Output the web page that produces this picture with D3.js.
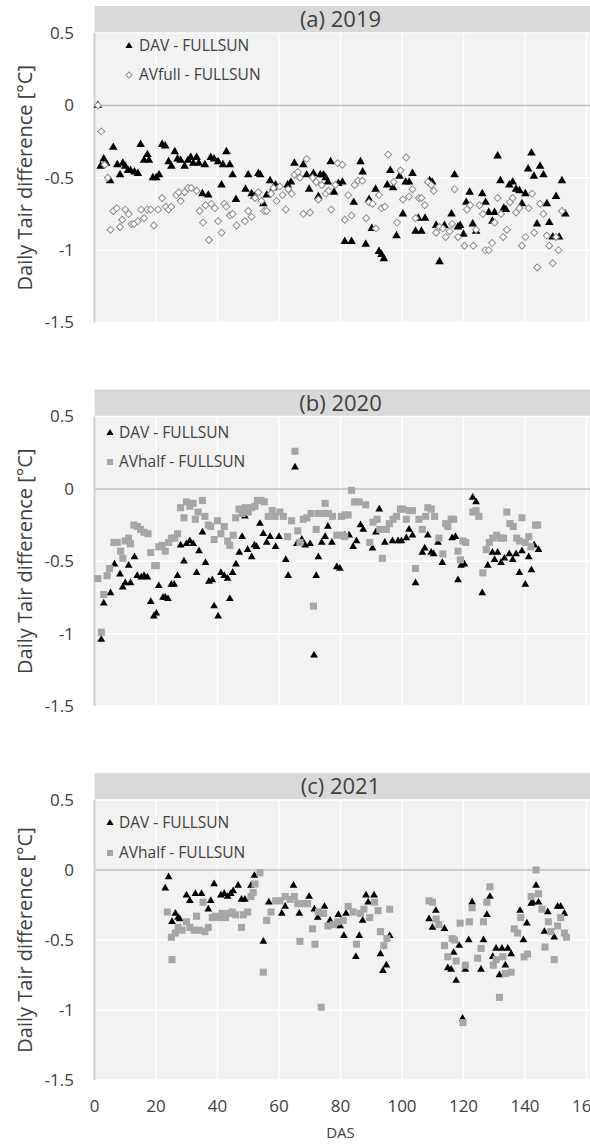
<!DOCTYPE html>
<html><head><meta charset="utf-8">
<script src="https://cdn.jsdelivr.net/npm/d3@7"></script>
<style>body{margin:0;background:#fff}svg{display:block}text{font-family:"Open Sans",sans-serif}</style>
</head><body><svg id="c" width="590" height="1146"></svg>
<script>
const xTicks=[0,20,40,60,80,100,120,140,160];
const yTicks=[0.5,0,-0.5,-1,-1.5];
const panelTitles=["(a) 2019","(b) 2020","(c) 2021"];
const seriesNames2019=["DAV - FULLSUN","AVfull - FULLSUN"];
const seriesNames2020=["DAV - FULLSUN","AVhalf - FULLSUN"];
const seriesNames2021=["DAV - FULLSUN","AVhalf - FULLSUN"];
const yTitle="Daily Tair difference [°C]";
const xTitle="DAS";

const dav2019=[[1.1,0],[2,-0.42],[3,-0.37],[3.8,-0.40],[5.1,-0.52],[6.1,-0.29],[7.4,-0.41],[8.3,-0.48],[9.2,-0.40],[10,-0.42],[10.9,-0.45],[11.7,-0.45],[13,-0.46],[14.1,-0.47],[15,-0.27],[16.1,-0.38],[17.2,-0.34],[17.7,-0.38],[19,-0.50],[20.1,-0.50],[21,-0.48],[22,-0.27],[23,-0.28],[24.1,-0.39],[25,-0.42],[26.1,-0.32],[27,-0.37],[28,-0.38],[29.3,-0.42],[30.4,-0.38],[31.3,-0.36],[32.1,-0.40],[33.2,-0.36],[33.9,-0.40],[35.1,-0.61],[35.9,-0.41],[37,-0.62],[37.8,-0.36],[38.9,-0.37],[40.2,-0.39],[41.3,-0.55],[41.8,-0.41],[42.9,-0.32],[44,-0.41],[44.9,-0.48],[46,-0.65],[49.1,-0.58],[50,-0.48],[51.1,-0.61],[52,-0.63],[53.3,-0.47],[53.9,-0.48],[54.9,-0.68],[56,-0.62],[57.1,-0.52],[58.2,-0.57],[58.9,-0.55],[62.8,-0.55],[63.9,-0.53],[65,-0.40],[67.9,-0.41],[69,-0.48],[69.8,-0.58],[71.2,-0.47],[72.8,-0.63],[73.4,-0.48],[74.5,-0.48],[75.2,-0.50],[75.9,-0.53],[76.8,-0.39],[77.9,-0.60],[79.3,-0.54],
[80.6,-0.53],[81.4,-0.94],[83.6,-0.94],[84.3,-0.67],[86.5,-0.39],[87.2,-0.46],[88.2,-0.96],[89.3,-0.65],[90.2,-0.85],[91.4,-0.58],[92.5,-1.01],[93.3,-1.03],[94.1,-1.06],[95.2,-0.55],[96.2,-0.45],[97.1,-0.57],[98.2,-0.90],[99.2,-0.49],[100.3,-0.75],[101.2,-0.53],[102.3,-0.53],[103.4,-0.47],[104.4,-0.87],[105.3,-0.78],[106.3,-0.87],[107.5,-0.78],[109,-0.52],[109.8,-0.53],[111.1,-0.83],[112.2,-1.08],[113.8,-0.83],[116.1,-0.75],[117.1,-0.48],[118.2,-0.84],[118.9,-0.83],[120,-0.89],[120.9,-0.67],[122,-0.60],[123,-0.82],[124.1,-0.87],[126.1,-0.61],[127.2,-0.67],[128.2,-0.74],[129.4,-0.80],[130.1,-0.74],[131.1,-0.35],[132,-0.52],[133.1,-0.71],[133.8,-0.72],[134.9,-0.55],[136,-0.53],[137.1,-0.58],[138.2,-0.59],[139,-0.68],[140.1,-0.61],[141,-0.44],[142.1,-0.33],[142.9,-0.49],[143.9,-0.82],[144.9,-0.42],[146,-0.48],[147.1,-0.68],[147.9,-0.81],[149,-0.91],[150.1,-0.63],[151.1,-0.91],[152,-0.52],[153.1,-0.75]];

const avfull2019=[[1.1,0],[2.2,-0.18],[3.3,-0.41],[4.3,-0.50],[5.2,-0.86],[6.1,-0.73],[7.2,-0.71],[8.3,-0.84],[9,-0.79],[10,-0.72],[11.1,-0.75],[12,-0.82],[12.8,-0.82],[14.1,-0.80],[15.2,-0.72],[16.1,-0.78],[17.2,-0.72],[18.3,-0.72],[19.3,-0.83],[20.7,-0.72],[22,-0.64],[23.2,-0.70],[24.1,-0.72],[25,-0.70],[26.6,-0.62],[27.4,-0.60],[28,-0.66],[29.3,-0.60],[30.4,-0.57],[31.5,-0.57],[33.2,-0.59],[34.2,-0.73],[35.3,-0.81],[36.1,-0.69],[37.2,-0.93],[38,-0.68],[39.1,-0.71],[40.2,-0.80],[41.3,-0.88],[42.2,-0.68],[42.9,-0.70],[44,-0.76],[44.9,-0.75],[46.2,-0.83],[48.9,-0.80],[50,-0.73],[51.1,-0.77],[52.2,-0.64],[53.3,-0.60],[54.3,-0.66],[55.2,-0.73],[56,-0.73],[57.4,-0.61],[58.2,-0.57],[59.2,-0.66],[60.3,-0.56],[61.2,-0.62],[62.2,-0.72],[63,-0.58],[64.1,-0.61],[65,-0.48],[66.1,-0.46],[66.8,-0.50],[67.9,-0.75],[69,-0.37],[70.1,-0.74],[70.9,-0.50],[72.1,-0.53],[72.8,-0.65],[73.9,-0.55],[75.2,-0.61],[76.1,-0.59],[77,-0.72],[78.3,-0.55],[79.1,-0.40],
[80.6,-0.41],[81.4,-0.79],[82.5,-0.62],[83.6,-0.76],[84.6,-0.55],[85.7,-0.52],[87.1,-0.52],[88.4,-0.78],[89.3,-0.67],[90.4,-0.68],[91.5,-0.85],[92.5,-0.62],[93.3,-0.71],[94.4,-0.70],[95.5,-0.34],[97.3,-0.53],[98.4,-0.81],[99.5,-0.45],[100.3,-0.65],[101.4,-0.36],[102.3,-0.63],[103.4,-0.58],[104.4,-0.78],[105.5,-0.64],[106.3,-0.64],[107.4,-0.69],[108.4,-0.53],[109.5,-0.55],[110.3,-0.59],[111.1,-0.88],[112.2,-0.84],[113.3,-0.85],[114.2,-0.91],[115.5,-0.87],[116.3,-0.82],[117.1,-0.58],[118.2,-0.91],[120.3,-0.97],[121.1,-0.72],[122.2,-0.69],[123.2,-0.97],[124.1,-0.86],[125.2,-0.69],[126.3,-0.75],[127.1,-1.00],[128.2,-1.00],[129.3,-0.95],[130.1,-0.81],[131.1,-0.64],[132.2,-0.75],[132.9,-0.91],[134.1,-0.86],[135.1,-0.67],[136,-0.64],[137.1,-0.74],[138.2,-0.71],[139,-0.97],[140.1,-0.91],[141.2,-0.71],[142.3,-0.61],[143,-0.88],[144,-1.12],[144.9,-0.68],[146,-0.75],[147.1,-0.90],[147.9,-0.97],[149,-1.09],[150.1,-0.91],[150.9,-1.00],[152,-0.73]];

const dav2020=[[2.2,-1.04],[3,-0.79],[5.2,-0.72],[6.5,-0.52],[8.3,-0.59],[9.2,-0.68],[10,-0.65],[11.1,-0.53],[11.7,-0.65],[13,-0.47],[13.9,-0.60],[15.2,-0.61],[16.1,-0.60],[17.2,-0.61],[18.3,-0.78],[19.3,-0.88],[20.1,-0.86],[20.9,-0.67],[22.3,-0.75],[23,-0.75],[23.9,-0.76],[25,-0.66],[25.9,-0.66],[27,-0.60],[28,-0.39],[29.1,-0.50],[29.9,-0.38],[31,-0.36],[32.1,-0.38],[33.2,-0.58],[34,-0.43],[35.1,-0.30],[36.1,-0.51],[37.2,-0.64],[38.3,-0.63],[38.9,-0.81],[40.2,-0.88],[41.1,-0.58],[42.2,-0.60],[43.3,-0.62],[44,-0.76],[44.9,-0.58],[46,-0.52],[47.1,-0.44],[48,-0.33],[48.9,-0.19],[49.8,-0.42],[51.1,-0.47],[52,-0.39],[52.7,-0.40],[53.8,-0.24],[54.9,-0.31],[56,-0.37],[57.1,-0.33],[58.9,-0.40],[60,-0.33],[62.2,-0.49],[63,-0.60],[65.2,0.15],[65.8,-0.38],[67.4,-0.35],[68.5,-0.39],[70.1,-0.38],[71.4,-1.15],[72.1,-0.60],[72.8,-0.47],[73.9,-0.37],[75,-0.33],[75.9,-0.26],[77.2,-0.37],[78.8,-0.54],
[79.8,-0.55],[81.4,-0.32],[82.8,-0.32],[84.1,-0.40],[85.2,-0.36],[86.5,-0.25],[87.4,-0.28],[90.4,-0.41],[91.5,-0.30],[92.6,-0.14],[94.4,-0.37],[96.9,-0.36],[98.7,-0.36],[99.8,-0.36],[101.4,-0.34],[102.3,-0.28],[103.4,-0.32],[104.4,-0.65],[106.6,-0.44],[107.4,-0.41],[108.4,-0.32],[109.5,-0.44],[110.3,-0.45],[111.7,-0.37],[113.1,-0.51],[116.3,-0.34],[117.4,-0.33],[118.2,-0.63],[119.2,-0.53],[120.3,-0.52],[123,-0.06],[124.1,-0.09],[126.1,-0.72],[127.9,-0.53],[129.4,-0.44],[130.1,-0.49],[131.1,-0.44],[132.2,-0.51],[133.3,-0.48],[134.9,-0.45],[136,-0.49],[137.1,-0.45],[138.2,-0.58],[139,-0.43],[140.1,-0.66],[141.2,-0.47],[142.1,-0.56],[143,-0.39],[144.4,-0.42]];

const avhalf2020=[[1.1,-0.62],[2.2,-0.99],[3,-0.73],[4.1,-0.60],[4.9,-0.55],[6.3,-0.37],[7.4,-0.37],[8.5,-0.43],[9.2,-0.48],[10,-0.36],[11.1,-0.34],[11.7,-0.38],[12.8,-0.25],[13.9,-0.26],[15,-0.28],[16.1,-0.30],[17.4,-0.31],[18.3,-0.44],[19.6,-0.53],[20.1,-0.53],[20.9,-0.40],[22,-0.39],[23,-0.43],[24.1,-0.37],[25,-0.34],[26.1,-0.34],[27,-0.31],[28,-0.13],[29.1,-0.20],[29.9,-0.09],[31,-0.12],[32.1,-0.10],[32.8,-0.21],[33.7,-0.16],[35.1,-0.08],[35.9,-0.19],[37,-0.25],[37.8,-0.26],[38.9,-0.35],[40,-0.22],[41.1,-0.31],[42.2,-0.26],[43.3,-0.36],[44,-0.39],[45.1,-0.32],[45.9,-0.20],[47,-0.14],[48,-0.17],[48.9,-0.13],[50,-0.16],[51.1,-0.13],[52.2,-0.12],[53,-0.08],[54.1,-0.08],[55.2,-0.09],[56.5,-0.19],[57.8,-0.15],[58.7,-0.19],[60.3,-0.16],[61.4,-0.19],[62.8,-0.33],[64.1,-0.22],[65.2,0.26],[66.1,-0.29],[66.8,-0.37],[67.9,-0.21],[69,-0.20],[70.4,-0.17],[71.2,-0.81],[72.1,-0.28],[72.8,-0.17],[73.9,-0.17],[75,-0.10],[76.1,-0.17],[77.4,-0.19],[78.8,-0.32],
[80.3,-0.19],[80.6,-0.32],[81.4,-0.18],[81.4,-0.33],[82.5,-0.18],[83.6,-0.01],[84.6,-0.09],[86.1,-0.09],[88.2,-0.11],[89.5,-0.37],[90.6,-0.23],[91.9,-0.21],[92.8,-0.28],[93.6,-0.48],[94.9,-0.28],[95.9,-0.24],[97.1,-0.21],[98.2,-0.19],[99.5,-0.14],[100.3,-0.14],[101.4,-0.21],[102.3,-0.15],[103.4,-0.15],[104.4,-0.55],[105.5,-0.21],[106.6,-0.28],[107.7,-0.19],[108.4,-0.13],[109.5,-0.14],[110.6,-0.19],[112,-0.34],[113.3,-0.45],[114.2,-0.24],[114.9,-0.26],[116,-0.21],[116.8,-0.21],[118.2,-0.43],[119,-0.49],[119.8,-0.36],[120.7,-0.37],[123,-0.16],[124.1,-0.15],[125,-0.19],[126.3,-0.58],[127.4,-0.42],[128.4,-0.37],[129.5,-0.34],[130.8,-0.32],[131.9,-0.34],[133,-0.34],[134.1,-0.16],[135.1,-0.24],[136.2,-0.26],[137.3,-0.34],[138.2,-0.36],[139,-0.20],[140.1,-0.37],[141.2,-0.33],[141.9,-0.40],[143.4,-0.25],[144.1,-0.25]];

const dav2021=[[23,-0.13],[24.1,-0.05],[25.2,-0.37],[26.3,-0.31],[27.2,-0.34],[27.7,-0.35],[29.9,-0.18],[31,-0.22],[32.8,-0.17],[34.8,-0.17],[37,-0.28],[37.8,-0.22],[38.9,-0.10],[41.1,-0.18],[42.2,-0.17],[43.3,-0.19],[44.3,-0.17],[45.1,-0.15],[46.7,-0.11],[47.8,-0.21],[48.9,-0.21],[50.9,-0.11],[52,-0.04],[54.9,-0.51],[56.7,-0.23],[60.9,-0.31],[62,-0.26],[64.7,-0.11],[66.6,-0.31],[69.8,-0.19],[71.5,-0.28],[72.6,-0.34],[74.8,-0.26],[76.6,-0.36],[79.3,-0.32],[79.9,-0.40],
[81.1,-0.47],[81.8,-0.31],[85,-0.62],[86.1,-0.47],[87.2,-0.36],[88.3,-0.18],[89,-0.23],[90.9,-0.18],[93,-0.60],[93.8,-0.72],[94.9,-0.68],[96,-0.47],[108.8,-0.35],[109.9,-0.41],[111,-0.29],[113.8,-0.42],[114.9,-0.70],[116,-0.71],[116.8,-0.59],[117.6,-0.79],[118.6,-0.54],[119.7,-1.06],[120.6,-0.71],[121.7,-0.50],[122.8,-0.23],[125.7,-0.71],[126.5,-0.50],[127.6,-0.32],[128.6,-0.19],[129.5,-0.62],[130.6,-0.56],[131.7,-0.75],[132.5,-0.56],[133.6,-0.68],[134.4,-0.56],[135.5,-0.60],[138.4,-0.29],[139.5,-0.50],[140.6,-0.38],[142,-0.24],[142.5,-0.23],[143.6,-0.11],[144.4,-0.23],[146.3,-0.44],[147.4,-0.30],[149.5,-0.48],[150.6,-0.26],[151.6,-0.26],[152.8,-0.31]];

const avhalf2021=[[23.7,-0.30],[25,-0.48],[25.2,-0.64],[26.3,-0.45],[27.2,-0.41],[28.5,-0.43],[29.9,-0.37],[31,-0.41],[32.4,-0.43],[33.2,-0.33],[34.2,-0.43],[35.3,-0.23],[35.9,-0.44],[37,-0.41],[38.3,-0.34],[39.3,-0.33],[40.4,-0.34],[41.5,-0.31],[42.6,-0.34],[43.7,-0.31],[44.8,-0.30],[45.9,-0.32],[47.8,-0.41],[48.4,-0.32],[49.8,-0.30],[50.9,-0.19],[51.6,-0.16],[52.2,-0.10],[53.8,-0.02],[54.9,-0.73],[56,-0.36],[57.4,-0.30],[58.9,-0.22],[60.3,-0.22],[62,-0.19],[63.6,-0.21],[65,-0.19],[66.1,-0.24],[66.8,-0.51],[67.9,-0.24],[69.3,-0.24],[70.9,-0.42],[71.7,-0.53],[72.8,-0.30],[73.7,-0.98],[74.5,-0.31],[75.9,-0.40],[77.7,-0.39],[79.1,-0.37],
[80.9,-0.36],[82.5,-0.26],[84.1,-0.30],[85.2,-0.53],[86.5,-0.31],[87.6,-0.28],[89.5,-0.34],[91.1,-0.23],[92.2,-0.29],[93,-0.44],[94.1,-0.54],[95.1,-0.49],[96,-0.28],[108.8,-0.22],[109.9,-0.23],[111.1,-0.35],[112,-0.39],[113.8,-0.54],[114.9,-0.62],[116.3,-0.49],[117.1,-0.50],[117.6,-0.65],[118.9,-0.38],[119.8,-1.09],[120.6,-0.68],[121.9,-0.37],[122.8,-0.27],[124.6,-0.63],[125.7,-0.56],[126.5,-0.37],[127.6,-0.23],[128.6,-0.12],[129.7,-0.68],[130.6,-0.64],[131.7,-0.91],[132.8,-0.62],[133.6,-0.74],[135.5,-0.73],[136.5,-0.42],[137.6,-0.45],[138.6,-0.34],[139.7,-0.62],[140.8,-0.60],[142,-0.19],[143.6,0.00],[144.4,-0.17],[145.5,-0.28],[146.5,-0.55],[147.6,-0.37],[148.4,-0.44],[149.5,-0.64],[150.6,-0.40],[151.6,-0.34],[152.8,-0.45],[153.5,-0.48]];

const panels=[
 {title:panelTitles[0],names:seriesNames2019,s1:dav2019,s2:avfull2019,kind2:"diamond",top:33,bottom:322.5,leg:{mx:129,tx:139,y1:46,y2:75},tri:32},
 {title:panelTitles[1],names:seriesNames2020,s1:dav2020,s2:avhalf2020,kind2:"square",top:416.5,bottom:706,leg:{mx:110,tx:119,y1:433,y2:462},tri:26},
 {title:panelTitles[2],names:seriesNames2021,s1:dav2021,s2:avhalf2021,kind2:"square",top:800,bottom:1080,leg:{mx:110,tx:119,y1:823,y2:853},tri:26,xaxis:true}
];

const svg=d3.select("#c");
const W=590;
const x=d3.scaleLinear().domain([0,160]).range([94.5,586.5]);
const textCol="#404040";

panels.forEach(p=>{
  const y=d3.scaleLinear().domain([-1.5,0.5]).range([p.bottom,p.top]);
  const g=svg.append("g");
  g.append("rect").attr("x",x(0)).attr("y",p.top).attr("width",W-x(0)).attr("height",p.bottom-p.top).attr("fill","#f2f2f2");
  g.append("rect").attr("x",x(0)).attr("y",p.top-27).attr("width",W-x(0)).attr("height",27).attr("fill","#d9d9d9");
  g.append("text").attr("x",x(80)).attr("y",p.top-13.5).attr("dy","0.35em").attr("text-anchor","middle")
    .attr("font-size",22).attr("fill",textCol).text(p.title);
  g.selectAll(".vg").data(xTicks.filter(t=>t>0)).enter().append("line")
    .attr("x1",d=>x(d)).attr("x2",d=>x(d)).attr("y1",p.top).attr("y2",p.bottom).attr("stroke","#fff").attr("stroke-width",1.5);
  g.selectAll(".hg").data(yTicks.filter(t=>t!==0)).enter().append("line")
    .attr("x1",x(0)).attr("x2",W).attr("y1",d=>y(d)).attr("y2",d=>y(d)).attr("stroke","#fff").attr("stroke-width",1.5);
  g.append("line").attr("x1",x(0)).attr("x2",W).attr("y1",y(0)).attr("y2",y(0)).attr("stroke","#bfbfbf").attr("stroke-width",1.5);
  g.append("line").attr("x1",x(0)).attr("x2",x(0)).attr("y1",p.top).attr("y2",p.bottom).attr("stroke","#d0d0d0").attr("stroke-width",2);
  g.selectAll(".yl").data(yTicks).enter().append("text")
    .attr("x",74).attr("y",d=>y(d)).attr("dy","0.35em").attr("text-anchor","end")
    .attr("font-size",17).attr("fill",textCol).text(d=>String(d));
  g.append("text").attr("transform",`translate(25,${(p.top+p.bottom)/2}) rotate(-90)`)
    .attr("dy","0.35em").attr("text-anchor","middle").attr("font-size",20).attr("fill",textCol).text(yTitle);

  const tri=d3.symbol().type(d3.symbolTriangle).size(p.tri);
  const sq=d3.symbol().type(d3.symbolSquare).size(50);
  const dia=d3.symbol().type(d3.symbolSquare).size(24);
  const marks=g.append("g");
  marks.selectAll(".t").data(p.s1).enter().append("path")
    .attr("d",tri).attr("transform",d=>`translate(${x(d[0])},${y(d[1])})`).attr("fill","#000");
  if(p.kind2==="diamond"){
    marks.selectAll(".d").data(p.s2).enter().append("path")
      .attr("d",dia).attr("transform",d=>`translate(${x(d[0])},${y(d[1])}) rotate(45)`)
      .attr("fill","#fff").attr("stroke","#8c8c8c").attr("stroke-width",1);
  } else {
    marks.selectAll(".s").data(p.s2).enter().append("path")
      .attr("d",sq).attr("transform",d=>`translate(${x(d[0])},${y(d[1])})`).attr("fill","#a6a6a6");
  }
  const L=p.leg;
  g.append("path").attr("d",d3.symbol().type(d3.symbolTriangle).size(22)).attr("transform",`translate(${L.mx},${L.y1})`).attr("fill","#000");
  if(p.kind2==="diamond"){
    g.append("path").attr("d",d3.symbol().type(d3.symbolSquare).size(18)).attr("transform",`translate(${L.mx},${L.y2}) rotate(45)`)
      .attr("fill","#fff").attr("stroke","#8c8c8c");
  } else {
    g.append("path").attr("d",d3.symbol().type(d3.symbolSquare).size(36)).attr("transform",`translate(${L.mx},${L.y2})`).attr("fill","#a6a6a6");
  }
  g.append("text").attr("x",L.tx).attr("y",L.y1).attr("dy","0.35em").attr("font-size",15.5).attr("fill",textCol).text(p.names[0]);
  g.append("text").attr("x",L.tx).attr("y",L.y2).attr("dy","0.35em").attr("font-size",15.5).attr("fill",textCol).text(p.names[1]);

  if(p.xaxis){
    g.selectAll(".xl").data(xTicks).enter().append("text")
      .attr("x",d=>x(d)).attr("y",p.bottom+26).attr("dy","0.35em").attr("text-anchor","middle")
      .attr("font-size",17).attr("fill",textCol).text(d=>String(d));
    g.append("text").attr("x",x(80)).attr("y",p.bottom+53).attr("dy","0.35em").attr("text-anchor","middle")
      .attr("font-size",15).attr("fill",textCol).text(xTitle);
  }
});
</script></body></html>
